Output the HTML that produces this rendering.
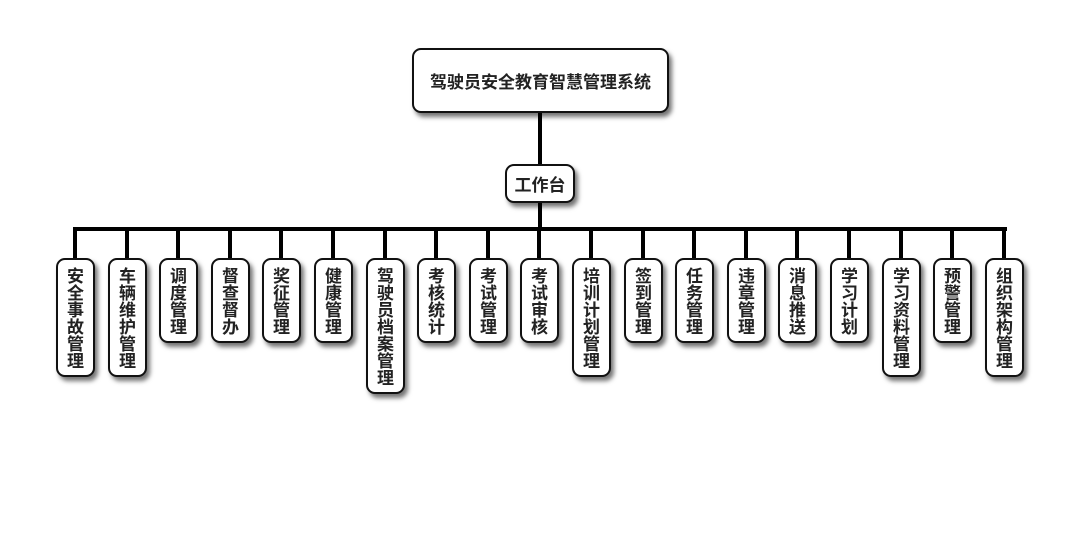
<!DOCTYPE html>
<html><head><meta charset="utf-8"><style>
body{margin:0;width:1080px;height:560px;background:#fff;position:relative;overflow:hidden;font-family:"Liberation Sans","Noto Sans CJK SC",sans-serif;font-weight:bold;color:#222}
.b{position:absolute;background:#fff;border:2px solid #111;border-radius:9px;box-shadow:3px 4px 5px rgba(0,0,0,.55);box-sizing:border-box;display:flex;align-items:center;justify-content:center;text-align:center}
.c{top:258px;width:39px;font-size:17px;line-height:17px;padding-top:2px}
.l{position:absolute;background:#000}
</style></head><body>
<div class="l" style="left:538px;top:110px;width:4px;height:56px"></div>
<div class="l" style="left:538px;top:200px;width:4px;height:30px"></div>
<div class="l" style="left:73px;top:227px;width:934px;height:4px"></div>
<div class="b" style="left:412px;top:48px;width:257px;height:65px;font-size:17px">驾驶员安全教育智慧管理系统</div>
<div class="b" style="left:505px;top:164px;width:70px;height:39px;font-size:17px">工作台</div>
<div id="k"></div>
<script>
var n=["安全事故管理","车辆维护管理","调度管理","督查督办","奖征管理","健康管理","驾驶员档案管理","考核统计","考试管理","考试审核","培训计划管理","签到管理","任务管理","违章管理","消息推送","学习计划","学习资料管理","预警管理","组织架构管理"];
var h="";
for(var i=0;i<n.length;i++){var cx=Math.round(75+i*51.6);var t=n[i];
h+='<div class="l" style="left:'+(cx-2)+'px;top:229px;width:4px;height:30px"></div>';
h+='<div class="b c" style="left:'+(cx-19)+'px;height:'+(17*t.length+17)+'px">'+t.split("").join("<br>")+'</div>';}
document.getElementById("k").innerHTML=h;
</script>
</body></html>
